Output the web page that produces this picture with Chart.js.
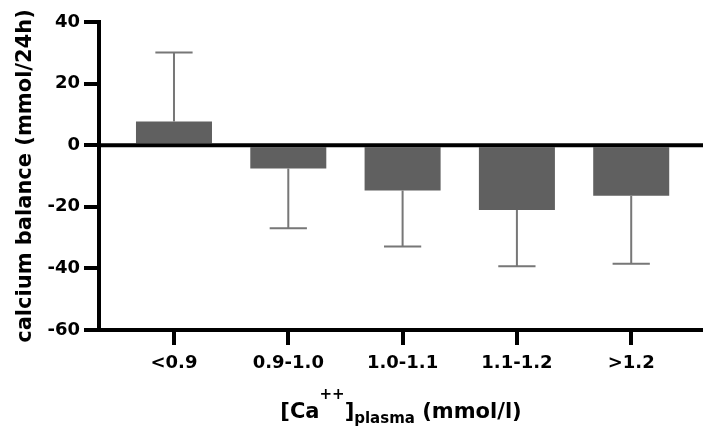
<!DOCTYPE html>
<html>
<head>
<meta charset="utf-8">
<title>Calcium balance by plasma calcium</title>
<script src="https://cdn.jsdelivr.net/npm/chart.js@4/dist/chart.umd.min.js"></script>
<style>
  html, body { margin: 0; padding: 0; background: #fff; }
  #wrap { width: 703px; height: 429px; position: relative; }
</style>
</head>
<body>
<div id="wrap"><canvas id="balanceChart"></canvas></div>
<script>
// Plasma Ca++ groups, mean calcium balance (mmol/24h) and SD (drawn one-sided)
const groups = ['<0.9', '0.9-1.0', '1.0-1.1', '1.1-1.2', '>1.2'];
const balance = [7.7, -7.6, -14.7, -21.0, -16.4];
const balanceSd = [22.4, 19.4, 18.2, 18.3, 22.1];
const yTicks = [-60, -40, -20, 0, 20, 40];

const FONT = 'DejaVu Sans';
const BAR_COLOR = '#606060';
const ERR_COLOR = '#777777';

// Error whiskers point away from zero, then the heavy zero line goes on top
const errorBars = {
  id: 'errorBars',
  afterDatasetsDraw(chart) {
    const { ctx, chartArea, scales: { y } } = chart;
    const meta = chart.getDatasetMeta(0);
    ctx.save();
    ctx.strokeStyle = ERR_COLOR;
    ctx.lineWidth = 2;
    meta.data.forEach((bar, i) => {
      const v = balance[i];
      const end = v >= 0 ? v + balanceSd[i] : v - balanceSd[i];
      const yEnd = y.getPixelForValue(end);
      const half = bar.width * 0.245;
      ctx.beginPath();
      ctx.moveTo(bar.x, bar.y);
      ctx.lineTo(bar.x, yEnd);
      ctx.moveTo(bar.x - half, yEnd);
      ctx.lineTo(bar.x + half, yEnd);
      ctx.stroke();
    });

    const y0 = y.getPixelForValue(0);
    ctx.strokeStyle = '#000';
    ctx.lineWidth = 4;
    ctx.beginPath();
    ctx.moveTo(chartArea.left, y0);
    ctx.lineTo(chartArea.right, y0);
    ctx.stroke();
    ctx.restore();
  }
};

// x title needs a superscript and a subscript, so it is drawn piece by piece
const xTitle = {
  id: 'xTitle',
  afterDraw(chart) {
    const { ctx, chartArea } = chart;
    const parts = [
      { text: '[Ca', size: 21, dy: 0 },
      { text: '++', size: 15, dy: -19 },
      { text: ']', size: 21, dy: 0 },
      { text: 'plasma', size: 15, dy: 4.5 },
      { text: ' (mmol/l)', size: 21, dy: 0 },
    ];
    ctx.save();
    ctx.fillStyle = '#000';
    ctx.textBaseline = 'alphabetic';
    ctx.textAlign = 'left';
    let total = 0;
    parts.forEach(p => {
      ctx.font = `bold ${p.size}px "${FONT}"`;
      p.w = ctx.measureText(p.text).width;
      total += p.w;
    });
    let x = (chartArea.left + chartArea.right) / 2 - total / 2;
    const base = chartArea.bottom + 88;
    parts.forEach(p => {
      ctx.font = `bold ${p.size}px "${FONT}"`;
      ctx.fillText(p.text, x, base + p.dy);
      x += p.w;
    });
    ctx.restore();
  }
};

const axisLine = {
  border: { display: true, width: 4, color: '#000' },
};
const tickMarks = {
  display: true,
  drawOnChartArea: false,
  drawTicks: true,
  tickLength: 15,
  lineWidth: 4,
  color: '#000',
  offset: false,
};

new Chart(document.getElementById('balanceChart'), {
  type: 'bar',
  data: {
    datasets: [{
      data: groups.map((g, i) => ({ x: i + 1, y: balance[i] })),
      backgroundColor: BAR_COLOR,
      borderWidth: 0,
      barPercentage: 0.665,
      categoryPercentage: 1,
    }],
  },
  options: {
    responsive: true,
    maintainAspectRatio: false,
    animation: false,
    layout: { padding: { top: 22, right: 0, bottom: 0, left: 0 } },
    plugins: {
      legend: { display: false },
      tooltip: { enabled: false },
    },
    scales: {
      x: {
        type: 'linear',
        min: 0.344,
        max: 5.628,
        offset: false,
        ...axisLine,
        grid: tickMarks,
        afterBuildTicks: axis => { axis.ticks = groups.map((g, i) => ({ value: i + 1 })); },
        afterFit: axis => { axis.height = 99; },
        ticks: {
          color: '#000',
          padding: 8,
          maxRotation: 0,
          autoSkip: false,
          font: { family: FONT, size: 18, weight: 'bold' },
          callback: (v, i) => groups[i],
        },
      },
      y: {
        min: -60,
        max: 40,
        ...axisLine,
        grid: tickMarks,
        afterBuildTicks: axis => { axis.ticks = yTicks.map(v => ({ value: v })); },
        afterFit: axis => { axis.width = 99; },
        ticks: {
          color: '#000',
          padding: 4,
          font: { family: FONT, size: 18, weight: 'bold' },
        },
        title: {
          display: true,
          text: 'calcium balance (mmol/24h)',
          color: '#000',
          padding: { top: 13, bottom: 0 },
          font: { family: FONT, size: 21, weight: 'bold' },
        },
      },
    },
  },
  plugins: [errorBars, xTitle],
});
</script>
</body>
</html>
